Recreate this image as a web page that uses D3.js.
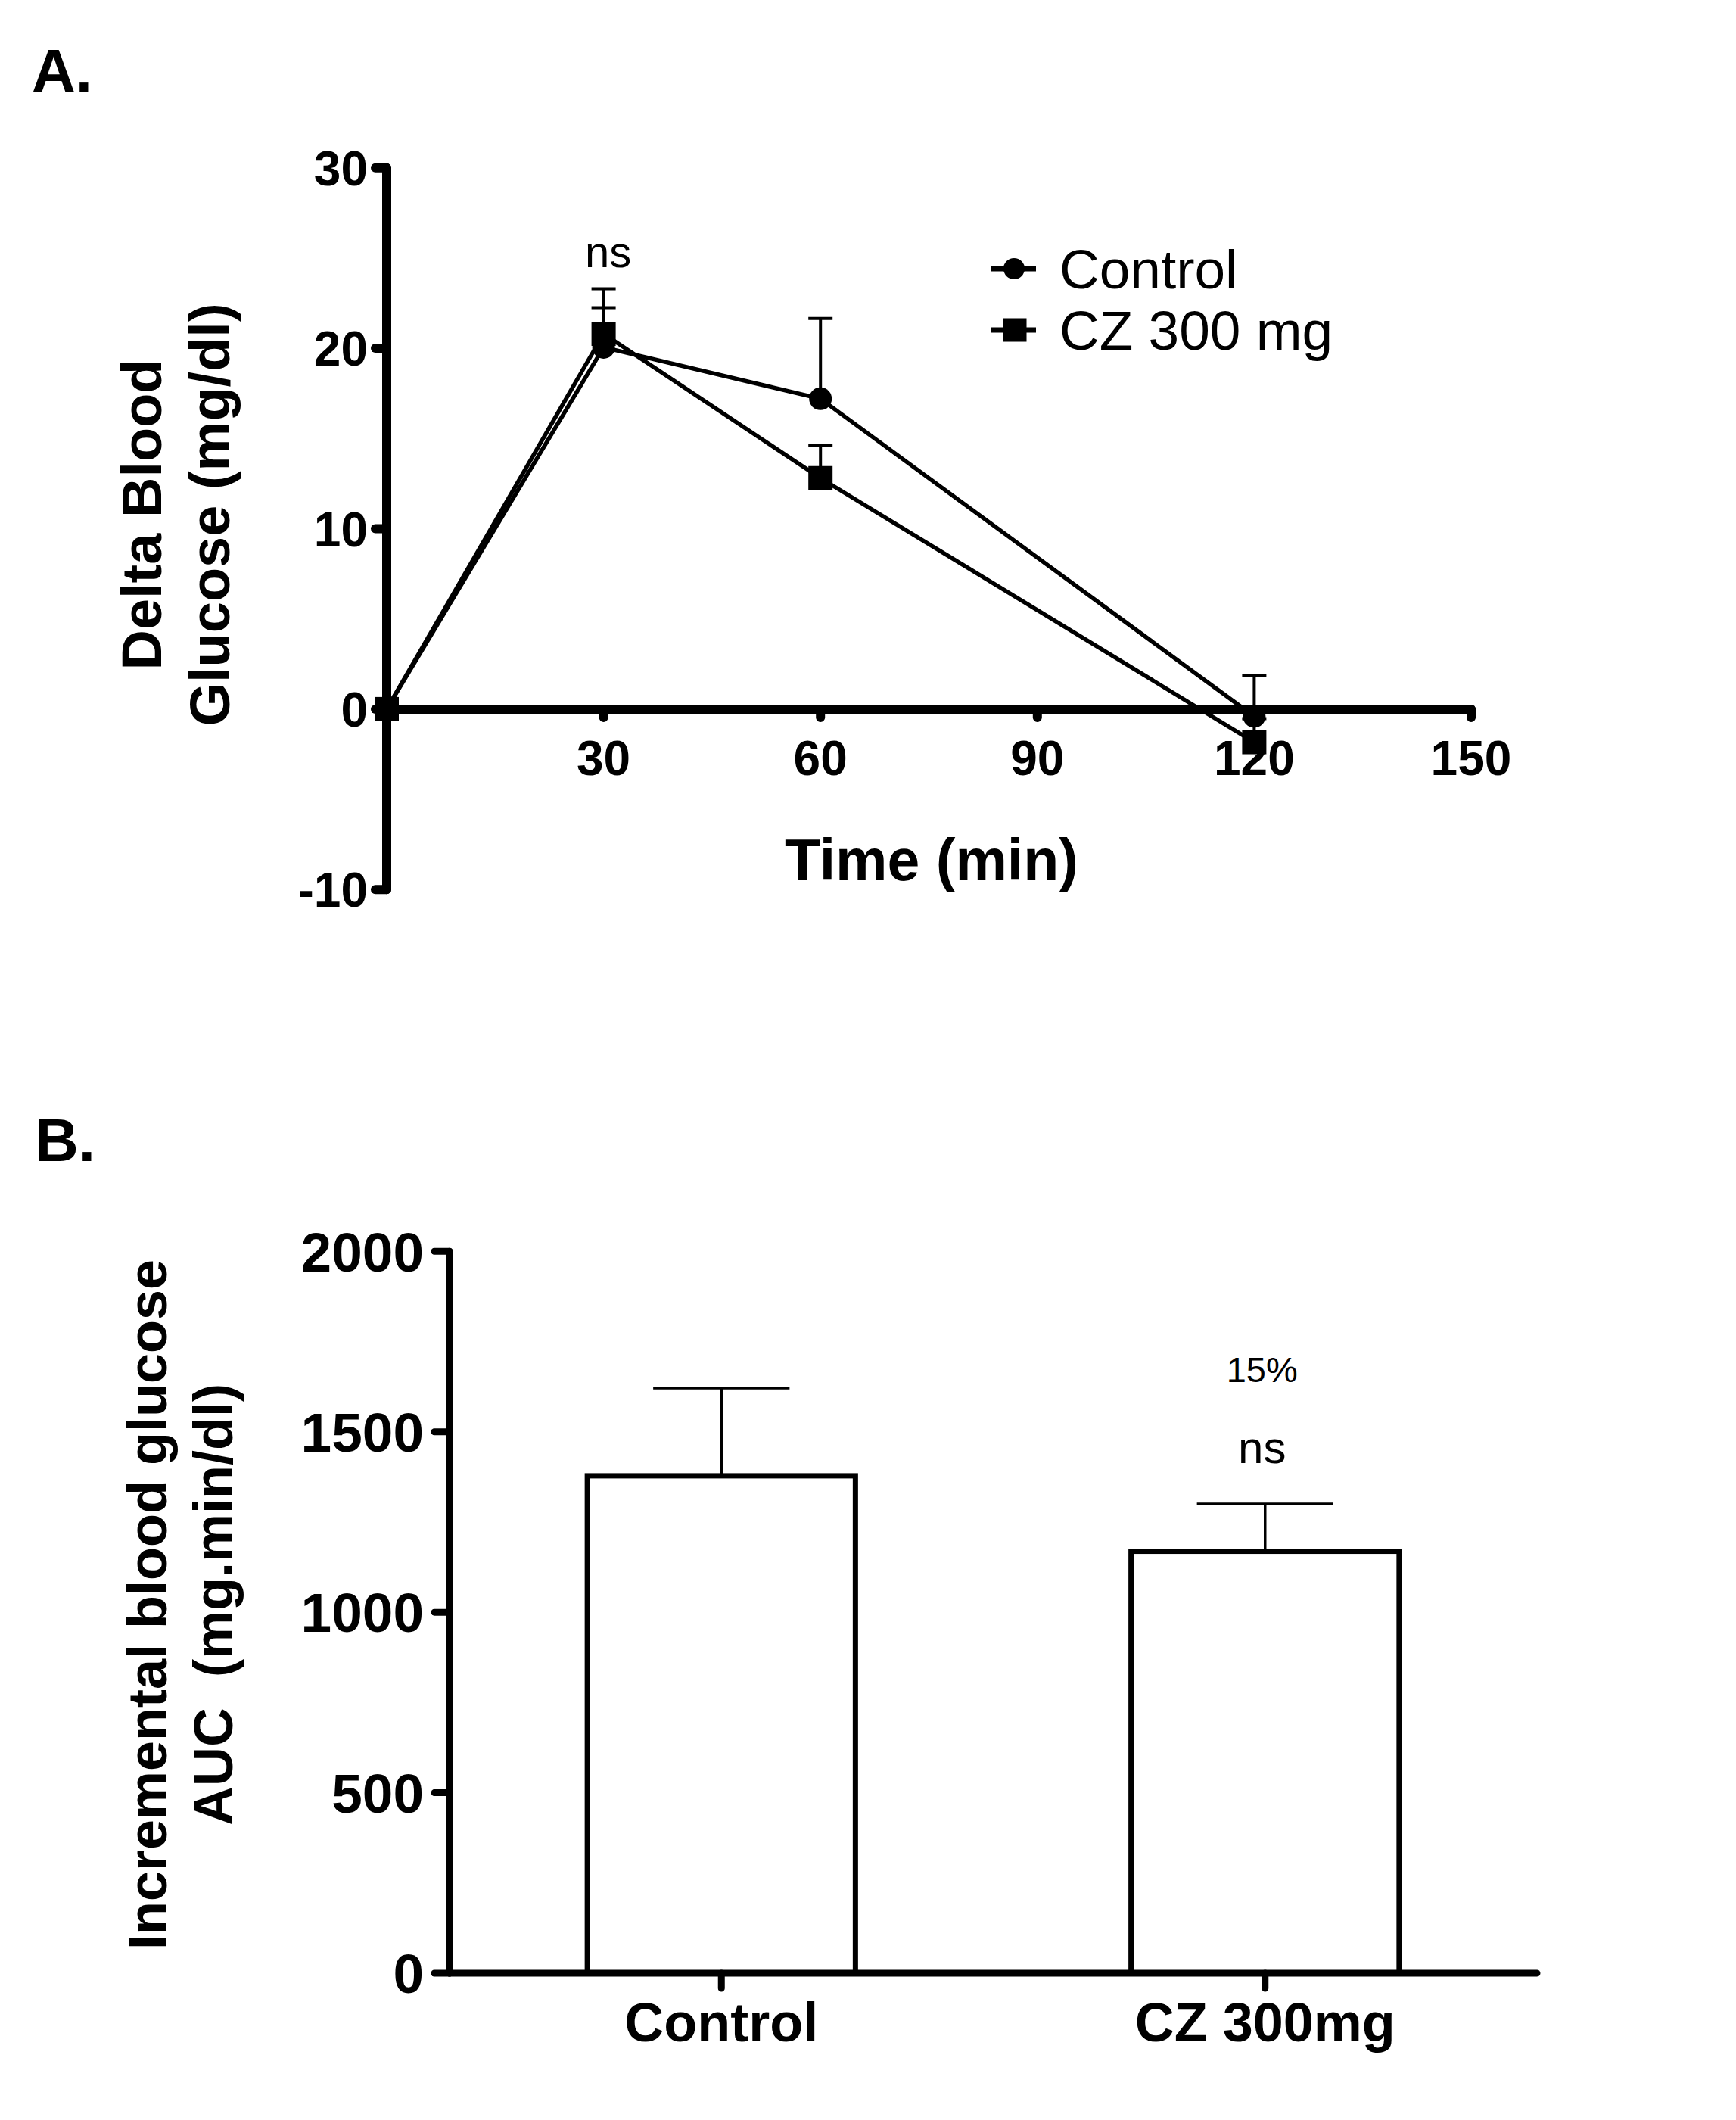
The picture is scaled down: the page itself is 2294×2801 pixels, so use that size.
<!DOCTYPE html>
<html>
<head>
<meta charset="utf-8">
<script src="https://cdn.jsdelivr.net/npm/d3@7"></script>
<style>
html,body{margin:0;padding:0;background:#fff;}
svg{display:block;}
text{font-family:"Liberation Sans",Arial,sans-serif;fill:#000;}
</style>
</head>
<body>
<script>
// ---------- DATA ----------
const timePoints = [0, 30, 60, 120];
const controlMean = [0, 20.05, 17.2, -0.4];
const controlSEM  = [0, 2.2, 4.45, 2.27];
const czMean      = [0, 20.8, 12.8, -1.83];
const czSEM       = [0, 2.5, 1.8, 1.3];
const seriesNames = ["Control", "CZ 300 mg"];
const xTicksA = [30, 60, 90, 120, 150];
const yTicksA = [-10, 0, 10, 20, 30];

const groups  = ["Control", "CZ 300mg"];
const aucMean = [1378, 1169];
const aucSEM  = [243, 131];
const yTicksB = [0, 500, 1000, 1500, 2000];
const annotB  = ["15%", "ns"];

// ---------- SVG ----------
const W = 2294, H = 2801;
const svg = d3.select("body").append("svg").attr("width", W).attr("height", H);
svg.append("rect").attr("width", W).attr("height", H).attr("fill", "#fff");

// ================= PANEL A =================
const xA = d3.scaleLinear().domain([0, 150]).range([511, 1944]);
const yA = d3.scaleLinear().domain([-10, 30]).range([1175.3, 221.7]);
const gA = svg.append("g");

svg.append("text").attr("x", 42).attr("y", 121).attr("font-size", 80).attr("font-weight", "bold").text("A.");

// y axis line
gA.append("line").attr("x1", xA(0)).attr("x2", xA(0)).attr("y1", yA(30)).attr("y2", yA(-10))
  .attr("stroke", "#000").attr("stroke-width", 12).attr("stroke-linecap", "round");
// x axis line at y=0
gA.append("line").attr("x1", xA(0)).attr("x2", xA(150)).attr("y1", yA(0)).attr("y2", yA(0))
  .attr("stroke", "#000").attr("stroke-width", 12).attr("stroke-linecap", "round");

// y ticks
gA.selectAll(".yt").data(yTicksA).enter().append("line")
  .attr("x1", xA(0)).attr("x2", xA(0) - 15).attr("y1", d => yA(d)).attr("y2", d => yA(d))
  .attr("stroke", "#000").attr("stroke-width", 12).attr("stroke-linecap", "round");
gA.selectAll(".ytl").data(yTicksA).enter().append("text")
  .attr("x", 486).attr("y", d => yA(d)).attr("dy", "0.36em")
  .attr("text-anchor", "end").attr("font-size", 64).attr("font-weight", "bold")
  .text(d => d);
// x ticks
gA.selectAll(".xt").data(xTicksA).enter().append("line")
  .attr("x1", d => xA(d)).attr("x2", d => xA(d)).attr("y1", yA(0)).attr("y2", yA(0) + 11)
  .attr("stroke", "#000").attr("stroke-width", 12).attr("stroke-linecap", "round");
gA.selectAll(".xtl").data(xTicksA).enter().append("text")
  .attr("x", d => xA(d)).attr("y", 1024)
  .attr("text-anchor", "middle").attr("font-size", 64).attr("font-weight", "bold")
  .text(d => d);

// axis titles
gA.append("text").attr("x", 1231).attr("y", 1163).attr("text-anchor", "middle")
  .attr("font-size", 77).attr("font-weight", "bold").text("Time (min)");
const ytA = gA.append("text").attr("transform", "translate(0,680) rotate(-90)")
  .attr("text-anchor", "middle").attr("font-size", 74).attr("font-weight", "bold");
ytA.append("tspan").attr("x", 0).attr("y", 213).text("Delta Blood");
ytA.append("tspan").attr("x", 0).attr("y", 303).text("Glucose (mg/dl)");

// series data
const seriesA = [
  {name: seriesNames[0], mean: controlMean, sem: controlSEM, shape: "circle"},
  {name: seriesNames[1], mean: czMean, sem: czSEM, shape: "square"}
];
const lineGen = d3.line().x(d => xA(d.t)).y(d => yA(d.v));

seriesA.forEach(s => {
  const pts = timePoints.map((t, i) => ({t, v: s.mean[i], e: s.sem[i]}));
  // error bars (upward)
  pts.filter(p => p.e > 0).forEach(p => {
    gA.append("line").attr("x1", xA(p.t)).attr("x2", xA(p.t))
      .attr("y1", yA(p.v)).attr("y2", yA(p.v + p.e))
      .attr("stroke", "#000").attr("stroke-width", 4);
    gA.append("line").attr("x1", xA(p.t) - 16).attr("x2", xA(p.t) + 16)
      .attr("y1", yA(p.v + p.e)).attr("y2", yA(p.v + p.e))
      .attr("stroke", "#000").attr("stroke-width", 4);
  });
  gA.append("path").datum(pts).attr("d", lineGen)
    .attr("fill", "none").attr("stroke", "#000").attr("stroke-width", 5.5).attr("stroke-linejoin", "round");
  pts.forEach(p => {
    if (s.shape === "circle") {
      gA.append("circle").attr("cx", xA(p.t)).attr("cy", yA(p.v)).attr("r", 15).attr("fill", "#000");
    } else {
      gA.append("rect").attr("x", xA(p.t) - 16).attr("y", yA(p.v) - 16)
        .attr("width", 32).attr("height", 32).attr("fill", "#000");
    }
  });
});

// ns label
gA.append("text").attr("x", xA(30) + 6).attr("y", 353).attr("text-anchor", "middle")
  .attr("font-size", 58).text("ns");

// legend
const leg = gA.append("g");
seriesA.forEach((s, i) => {
  const cy = 355 + i * 81;
  leg.append("line").attr("x1", 1310).attr("x2", 1369).attr("y1", cy).attr("y2", cy)
    .attr("stroke", "#000").attr("stroke-width", 7);
  if (s.shape === "circle") {
    leg.append("circle").attr("cx", 1340).attr("cy", cy).attr("r", 14).attr("fill", "#000");
  } else {
    leg.append("rect").attr("x", 1341 - 15.5).attr("y", cy - 15.5).attr("width", 31).attr("height", 31).attr("fill", "#000");
  }
  leg.append("text").attr("x", 1400).attr("y", cy + 25.5).attr("font-size", 73).text(s.name);
});

// ================= PANEL B =================
const xB = d3.scaleBand().domain(groups).range([594, 2031]).padding(0);
const yB = d3.scaleLinear().domain([0, 2000]).range([2607, 1653.3]);
const gB = svg.append("g");

svg.append("text").attr("x", 46).attr("y", 1534).attr("font-size", 80).attr("font-weight", "bold").text("B.");

// bars
const bw = xB.bandwidth() * 0.493;
groups.forEach((g, i) => {
  const cx = xB(g) + xB.bandwidth() / 2;
  // error bar
  gB.append("line").attr("x1", cx).attr("x2", cx).attr("y1", yB(aucMean[i])).attr("y2", yB(aucMean[i] + aucSEM[i]))
    .attr("stroke", "#000").attr("stroke-width", 3.5);
  gB.append("line").attr("x1", cx - bw / 2 + 87).attr("x2", cx + bw / 2 - 87)
    .attr("y1", yB(aucMean[i] + aucSEM[i])).attr("y2", yB(aucMean[i] + aucSEM[i]))
    .attr("stroke", "#000").attr("stroke-width", 3.5);
  gB.append("rect").attr("x", cx - bw / 2).attr("y", yB(aucMean[i]))
    .attr("width", bw).attr("height", yB(0) - yB(aucMean[i]))
    .attr("fill", "#fff").attr("stroke", "#000").attr("stroke-width", 7);
});

// axes
gB.append("line").attr("x1", 594).attr("x2", 594).attr("y1", yB(2000)).attr("y2", yB(0))
  .attr("stroke", "#000").attr("stroke-width", 9).attr("stroke-linecap", "round");
gB.append("line").attr("x1", 594).attr("x2", 2031).attr("y1", yB(0)).attr("y2", yB(0))
  .attr("stroke", "#000").attr("stroke-width", 9).attr("stroke-linecap", "round");
gB.selectAll(".ytB").data(yTicksB).enter().append("line")
  .attr("x1", 594).attr("x2", 574).attr("y1", d => yB(d)).attr("y2", d => yB(d))
  .attr("stroke", "#000").attr("stroke-width", 9).attr("stroke-linecap", "round");
gB.selectAll(".ytlB").data(yTicksB).enter().append("text")
  .attr("x", 560).attr("y", d => yB(d)).attr("dy", "0.36em")
  .attr("text-anchor", "end").attr("font-size", 73).attr("font-weight", "bold")
  .text(d => d);
gB.selectAll(".xtB").data(groups).enter().append("line")
  .attr("x1", d => xB(d) + xB.bandwidth() / 2).attr("x2", d => xB(d) + xB.bandwidth() / 2)
  .attr("y1", yB(0)).attr("y2", yB(0) + 20)
  .attr("stroke", "#000").attr("stroke-width", 9).attr("stroke-linecap", "round");
gB.selectAll(".xtlB").data(groups).enter().append("text")
  .attr("x", d => xB(d) + xB.bandwidth() / 2).attr("y", 2697)
  .attr("text-anchor", "middle").attr("font-size", 72).attr("font-weight", "bold")
  .text(d => d);

// y title
const ytB = gB.append("text").attr("transform", "translate(0,2120) rotate(-90)")
  .attr("text-anchor", "middle").attr("font-size", 72).attr("font-weight", "bold");
ytB.append("tspan").attr("x", 0).attr("y", 220).text("Incremental blood glucose");
ytB.append("tspan").attr("x", 0).attr("y", 307).attr("xml:space", "preserve").style("white-space", "pre").text("AUC  (mg.min/dl)");

// annotations above CZ bar
const czx = xB(groups[1]) + xB.bandwidth() / 2;
gB.append("text").attr("x", czx - 4).attr("y", 1826).attr("text-anchor", "middle")
  .attr("font-size", 47).text(annotB[0]);
gB.append("text").attr("x", czx - 4).attr("y", 1933).attr("text-anchor", "middle")
  .attr("font-size", 60).text(annotB[1]);
</script>
</body>
</html>
